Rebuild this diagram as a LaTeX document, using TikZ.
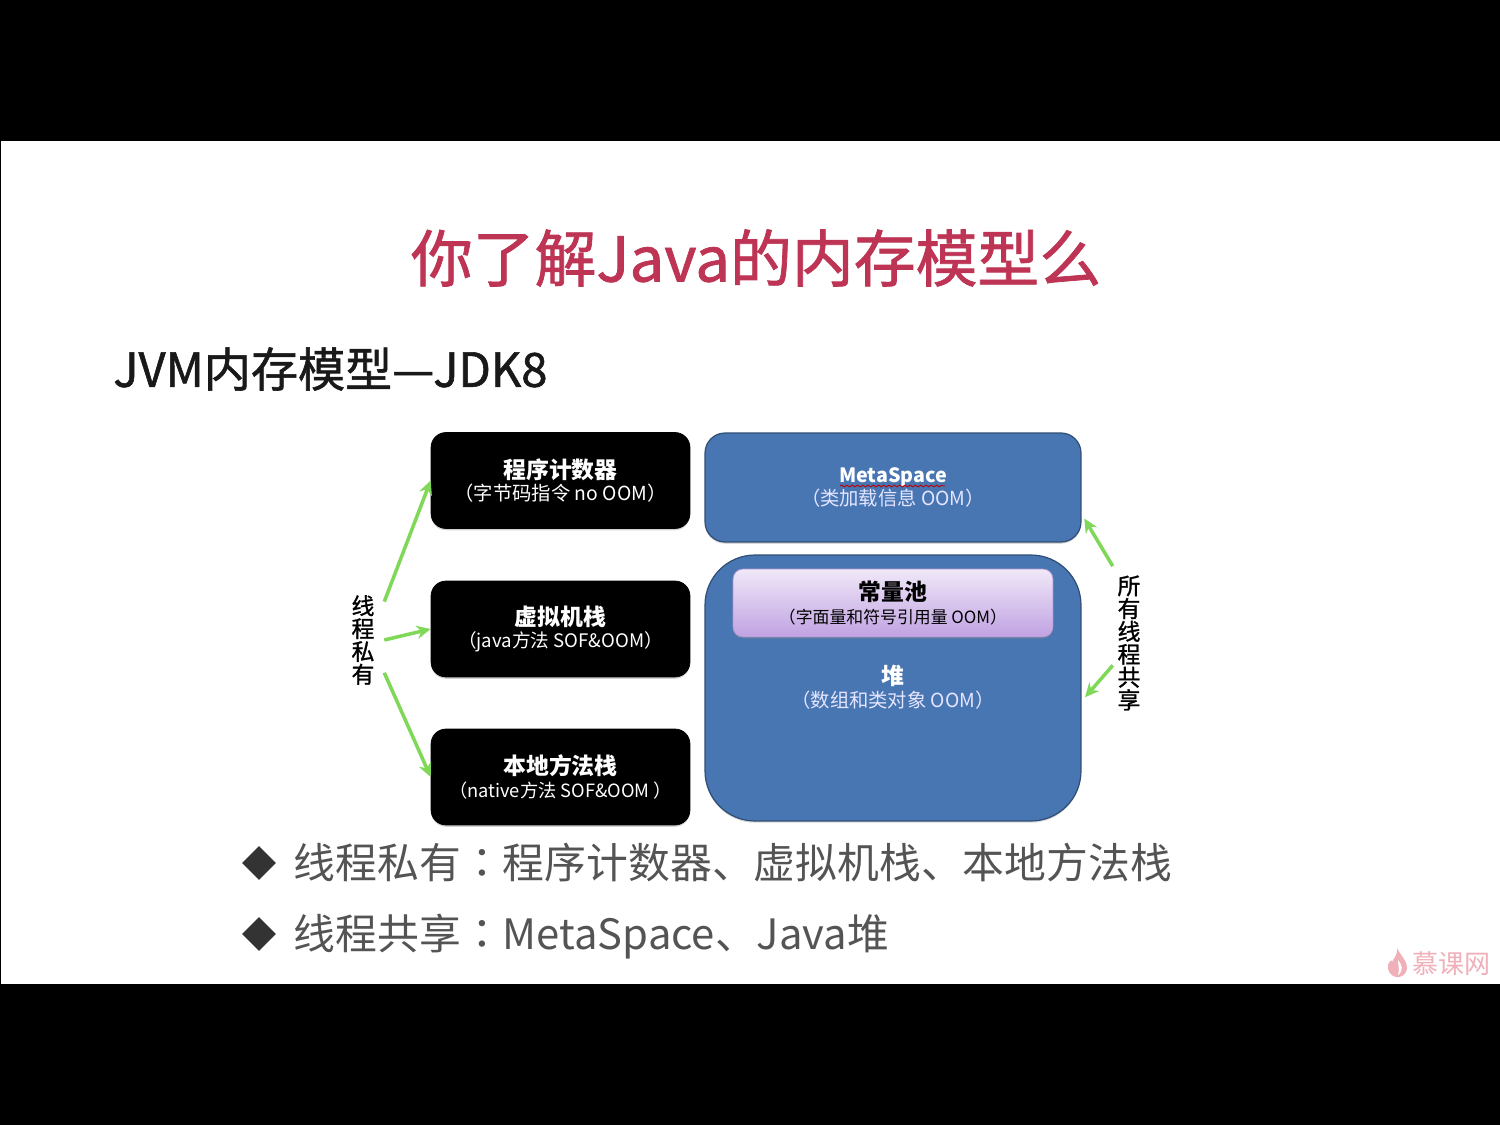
\documentclass[tikz,border=0pt]{standalone}
\usepackage{fontspec}
\setmainfont{Noto Sans CJK SC}
\newfontfamily\heavyfont[FakeBold=1.2]{Noto Sans CJK SC}
\newfontfamily\colonfont{Noto Sans CJK TC}
\usetikzlibrary{arrows.meta,shadows,shapes.geometric,decorations.pathmorphing}

\definecolor{slidered}{RGB}{190,52,84}
\definecolor{slidegray}{RGB}{84,84,84}
\definecolor{boxblue}{RGB}{72,118,178}
\definecolor{boxline}{RGB}{48,78,118}
\definecolor{arrowgreen}{RGB}{128,216,88}
\definecolor{logopink}{RGB}{240,176,186}
\definecolor{pooltop}{RGB}{240,232,248}
\definecolor{poolbottom}{RGB}{192,162,226}
\definecolor{poolline}{RGB}{176,150,206}

\newcommand{\boxhead}{\fontsize{13}{14.2}\selectfont\bfseries}
\newcommand{\boxsub}{\fontsize{11}{14.2}\selectfont}

\tikzset{
  blackbox/.style={draw=black, fill=black, rounded corners=0.3cm, text=white, align=center,
    minimum width=5.18cm, minimum height=1.92cm, inner sep=0pt,
    drop shadow={opacity=0.35, shadow xshift=0pt, shadow yshift=-1pt}},
  bluebox/.style={draw=boxline, fill=boxblue, line width=0.7pt, text=white, align=center,
    minimum width=7.52cm, inner sep=0pt,
    drop shadow={opacity=0.3, shadow xshift=0pt, shadow yshift=-1pt}},
  poolbox/.style={draw=poolline, rounded corners=0.2cm, top color=pooltop, bottom color=poolbottom,
    text=black, align=center, minimum width=6.4cm, minimum height=1.36cm, inner sep=0pt,
    drop shadow={opacity=0.3, shadow xshift=0pt, shadow yshift=-1pt}},
  sidelabel/.style={align=center, text=black, font=\fontsize{13}{13}\selectfont\heavyfont},
  greenarrow/.style={draw=arrowgreen, line width=2pt, -{Stealth[length=8pt,width=7.5pt]}},
  bulletmark/.style={diamond, fill=black!80, inner sep=0pt, minimum size=0.68cm},
  bullettext/.style={anchor=base west, text=slidegray, inner sep=0pt, font=\fontsize{23.8}{26}\selectfont},
}

\begin{document}
\begin{tikzpicture}[x=0.02cm,y=-0.02cm]
  % fundo
  \fill[black] (0,0) rectangle (1500,1125);
  \fill[white] (1,141) rectangle (1500,984);
  \useasboundingbox (0,0) rectangle (1500,1125);

  % títulos
  \node[text=slidered, inner sep=0pt, font=\fontsize{35.2}{38}\selectfont\heavyfont] (title) at (756,258) {你了解Java的内存模型么};
  \node[anchor=west, text=black!90, inner sep=0pt, font=\fontsize{26.8}{30}\selectfont\heavyfont] (subtitle) at (113,369) {JVM内存模型—JDK8};

  % caixas da esquerda
  \node[blackbox] (counter) at (560.5,480.5) {{\boxhead 程序计数器}\\[1pt]{\boxsub （字节码指令 no OOM）}};
  \node[blackbox] (vmstack) at (560.5,629) {{\boxhead 虚拟机栈}\\[1pt]{\fontsize{10.6}{14.2}\selectfont （java方法 SOF\&OOM）}};
  \node[blackbox] (nativestack) at (560.5,777) {{\boxhead 本地方法栈}\\[1pt]{\fontsize{10.4}{14.2}\selectfont （native方法 SOF\&OOM ）}};

  % caixas da direita
  \node[bluebox, rounded corners=0.4cm, minimum height=2.18cm] (meta) at (893,487.5) {{\fontsize{11.2}{14.2}\selectfont\bfseries MetaSpace}\\[1.5pt]{\boxsub\color{blue!10} （类加载信息 OOM）}};
  \node[bluebox, rounded corners=1cm, minimum height=5.32cm] (heap) at (893,688) {};
  \node[poolbox] (pool) at (893,603) {{\boxhead 常量池}\\[1pt]{\fontsize{9.6}{14.2}\selectfont （字面量和符号引用量 OOM）}};
  \node[align=center, text=white, inner sep=0pt] (heaptext) at (893,687.5) {{\boxhead 堆}\\[1pt]{\boxsub\color{blue!10} （数组和类对象 OOM）}};

  % sublinhado
  \draw[red!75!black, line width=0.5pt, decorate, decoration={snake, amplitude=0.5pt, segment length=3pt}] (840,486) -- (945,486);

  % rótulos laterais
  \node[sidelabel, inner xsep=0.19cm, inner ysep=0pt] (private) at (363,640) {线\\程\\私\\有};
  \node[sidelabel, inner xsep=0.09cm, inner ysep=0.18cm] (shared) at (1129,643) {所\\有\\线\\程\\共\\享};

  % setas
  \draw[greenarrow] (private.61) -- (counter.west);
  \draw[greenarrow] (private.east) -- (vmstack.west);
  \draw[greenarrow] (private.-57) -- (nativestack.west);
  \draw[greenarrow, shorten >=3pt] (shared.north west) -- (meta.-8.5);
  \draw[greenarrow, shorten >=3pt] (shared.234) -- (heap.-4.9);

  % listas
  \node[bulletmark] (bulletone) at (259,863) {};
  \node[bullettext] (lineone) at (293.5,878) {线程私有{\colonfont ：}程序计数器、虚拟机栈、本地方法栈};
  \node[bulletmark] (bullettwo) at (259,934) {};
  \node[bullettext] (linetwo) at (293.5,949) {线程共享{\colonfont ：}MetaSpace、Java堆};

  % marca
  \fill[logopink] (1397,948) .. controls (1401,956) and (1408,962) .. (1407,969)
    .. controls (1406,975) and (1400,978) .. (1396,977)
    .. controls (1391,976) and (1387,971) .. (1388,965)
    .. controls (1389,962) and (1392,958) .. (1392,962)
    .. controls (1394,958) and (1398,954) .. (1397,948) -- cycle;
  \fill[white] (1398,960) .. controls (1402,965) and (1404,970) .. (1398,975)
    .. controls (1400,970) and (1398,965) .. (1398,960) -- cycle;
  \node[anchor=west, text=logopink, inner sep=0pt, font=\fontsize{14.8}{16}\selectfont] (logo) at (1412,964) {慕课网};
\end{tikzpicture}
\end{document}
